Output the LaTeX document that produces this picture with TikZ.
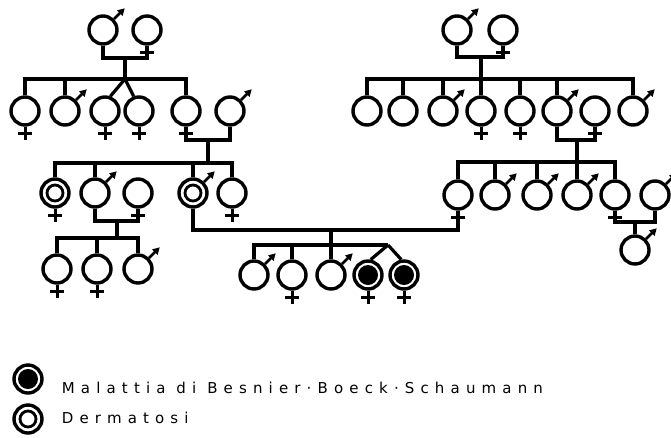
\documentclass[tikz,border=0pt]{standalone}
\usepackage{fontspec}
\setmainfont{DejaVu Sans}
\usetikzlibrary{arrows.meta}
\usetikzlibrary{positioning}
\tikzstyle{line}=[line width=3.2pt]
\tikzstyle{person}=[circle, draw, line width=3.4pt, minimum size=28pt, inner sep=0pt]
\tikzstyle{derm}=[person, path picture={\draw[line width=2.8pt] (path picture bounding box.center) circle (8pt);}]
\tikzstyle{sick}=[person, path picture={\fill (path picture bounding box.center) circle (10pt);}]
\tikzstyle{male sign}=[line width=2.8pt, -{Triangle[length=7pt,width=7.5pt]}]
\tikzstyle{female sign}=[line width=3pt]
\tikzstyle{legend}=[inner sep=0pt, font=\fontsize{15}{17}\selectfont\addfontfeature{LetterSpace=41}]

\begin{document}
\begin{tikzpicture}[x=1pt, y=-1pt]
  \useasboundingbox (0,0) rectangle (671,437);

  % left family
  \node[person] (lm) at (103,30) {};
  \node[person] (lf) at (147,30) {};
  \coordinate (lc) at (125,58);
  \coordinate (ls) at (125,79);
  \node[person] (l1) at (25,111) {};
  \node[person] (l2) at (65,111) {};
  \node[person] (l3) at (105,111) {};
  \node[person] (l4) at (139,111) {};
  \node[person] (l5) at (186,111) {};
  \node[person] (l6) at (230,111) {};
  \draw[line] (lm.south) |- (lc) -| (lf.south);
  \draw[line] (lc) -- (ls);
  \draw[line] (l1.north) |- (l5.north |- ls) -- (l5.north);
  \draw[line] (l2.north) -- (l2.north |- ls);
  \draw[line] (ls) -- (l3.70);
  \draw[line] (ls) -- (l4.110);

  \coordinate (lc2) at (208,140);
  \coordinate (ms) at (208,163);
  \node[derm] (m1) at (55,193) {};
  \node[person] (m2) at (95,193) {};
  \node[person] (m3) at (138,193) {};
  \node[derm] (m4) at (193,193) {};
  \node[person] (m5) at (232,193) {};
  \draw[line] (l5.south) |- (lc2) -| (l6.south);
  \draw[line] (lc2) -- (ms);
  \draw[line] (m1.north) |- (m5.north |- ms) -- (m5.north);
  \draw[line] (m2.north) -- (m2.north |- ms);
  \draw[line] (m4.north) -- (m4.north |- ms);

  \coordinate (mc) at (117,221);
  \coordinate (bs) at (117,238);
  \node[person] (b1) at (57,269) {};
  \node[person] (b2) at (97,269) {};
  \node[person] (b3) at (138,269) {};
  \draw[line] (m2.south) |- (mc) -| (m3.south);
  \draw[line] (mc) -- (bs);
  \draw[line] (b1.north) |- (b3.north |- bs) -- (b3.north);
  \draw[line] (b2.north) -- (b2.north |- bs);

  % right family
  \node[person] (rm) at (457,30) {};
  \node[person] (rf) at (503,30) {};
  \coordinate (rc) at (481,57);
  \coordinate (rs) at (481,79);
  \node[person] (r1) at (367,111) {};
  \node[person] (r2) at (403,111) {};
  \node[person] (r3) at (443,111) {};
  \node[person] (r4) at (481,111) {};
  \node[person] (r5) at (520,111) {};
  \node[person] (r6) at (557,111) {};
  \node[person] (r7) at (595,111) {};
  \node[person] (r8) at (633,111) {};
  \draw[line] (rm.south) |- (rc) -| (rf.south);
  \draw[line] (rc) -- (rs);
  \draw[line] (r1.north) |- (r8.north |- rs) -- (r8.north);
  \draw[line] (r2.north) -- (r2.north |- rs);
  \draw[line] (r3.north) -- (r3.north |- rs);
  \draw[line] (r4.north) -- (r4.north |- rs);
  \draw[line] (r5.north) -- (r5.north |- rs);
  \draw[line] (r6.north) -- (r6.north |- rs);

  \coordinate (rc2) at (577,140);
  \coordinate (ss) at (577,162);
  \node[person] (s1) at (458,195) {};
  \node[person] (s2) at (495,195) {};
  \node[person] (s3) at (537,195) {};
  \node[person] (s4) at (577,195) {};
  \node[person] (s5) at (615,195) {};
  \node[person] (s6) at (655,195) {};
  \draw[line] (r6.south) |- (rc2) -| (r7.south);
  \draw[line] (rc2) -- (ss);
  \draw[line] (s1.north) |- (s5.north |- ss) -- (s5.north);
  \draw[line] (s2.north) -- (s2.north |- ss);
  \draw[line] (s3.north) -- (s3.north |- ss);
  \draw[line] (s4.north) -- (s4.north |- ss);

  \coordinate (sc) at (635,222);
  \node[person] (t1) at (635,250) {};
  \draw[line] (s5.south) |- (sc) -| (s6.south);
  \draw[line] (sc) -- (t1.north);

  % the marriage between both families
  \coordinate (xc) at (331,230);
  \coordinate (xs) at (331,245);
  \coordinate (tw) at (388,245);
  \node[person] (c1) at (254,275) {};
  \node[person] (c2) at (292,275) {};
  \node[person] (c3) at (331,275) {};
  \node[sick] (c4) at (368,275) {};
  \node[sick] (c5) at (404,275) {};
  \draw[line] (m4.south) |- (xc) -| (s1.south);
  \draw[line] (xc) -- (xs);
  \draw[line] (c1.north) |- (tw);
  \draw[line] (c2.north) -- (c2.north |- tw);
  \draw[line] (c3.north) -- (c3.north |- tw);
  \draw[line] (tw) -- (c4.80);
  \draw[line] (tw) -- (c5.100);

  % sex signs
  \foreach \n in {lm,l2,l6,m2,m4,b3,rm,r3,r6,r8,s2,s3,s4,s6,t1,c1,c3}
    \draw[male sign] (\n.45) -- ++(45:15pt);
  \foreach \n in {lf,l1,l3,l4,l5,m1,m3,m5,b1,b2,rf,r4,r5,r7,s1,s5,c2,c4,c5}
    \draw[female sign] (\n.south) -- ++(0,13) ++(-7,-6) -- ++(14,0);

  % key
  \node[sick] (key1) at (28,379) {};
  \node[derm] (key2) at (28,419) {};
  \node[legend, right=18pt of key1, anchor=base west, yshift=-14pt] (text1) {Malattia di Besnier·Boeck·Schaumann};
  \node[legend, right=18pt of key2, anchor=base west, yshift=-4pt] (text2) {Dermatosi};
\end{tikzpicture}
\end{document}
